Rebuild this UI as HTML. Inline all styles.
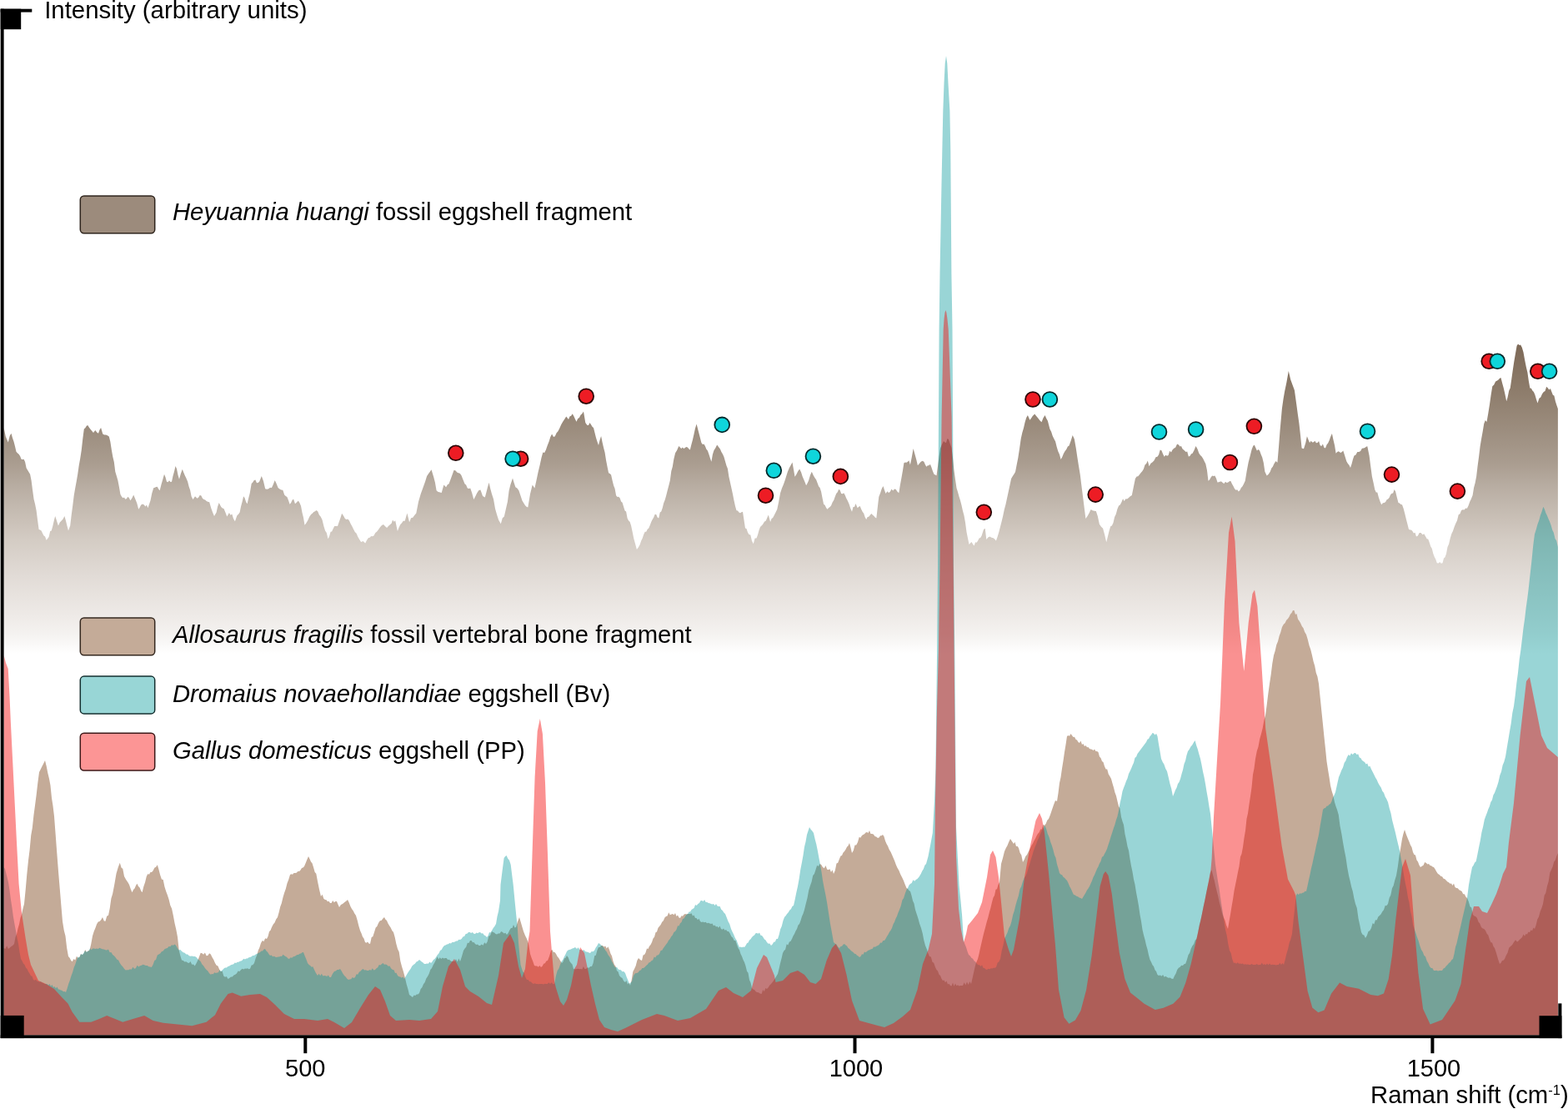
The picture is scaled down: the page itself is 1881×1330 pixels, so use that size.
<!DOCTYPE html>
<html><head><meta charset="utf-8"><title>Raman spectra</title>
<style>html,body{margin:0;padding:0;background:#fff;width:1881px;height:1330px;overflow:hidden}svg{display:block}</style>
</head><body>
<svg width="1881" height="1330" viewBox="0 0 1881 1330">
<defs>
<linearGradient id="hg" gradientUnits="userSpaceOnUse" x1="0" y1="414" x2="0" y2="784">
<stop offset="0.000" stop-color="rgb(125,105,87)"/>
<stop offset="0.151" stop-color="rgb(142,125,108)"/>
<stop offset="0.265" stop-color="rgb(155,140,125)"/>
<stop offset="0.384" stop-color="rgb(170,157,144)"/>
<stop offset="0.462" stop-color="rgb(185,174,163)"/>
<stop offset="0.632" stop-color="rgb(212,204,196)"/>
<stop offset="0.746" stop-color="rgb(225,219,214)"/>
<stop offset="0.876" stop-color="rgb(238,234,231)"/>
<stop offset="0.941" stop-color="rgb(245,243,241)"/>
<stop offset="1.000" stop-color="rgb(255,255,255)"/>
</linearGradient>
</defs>
<rect width="1881" height="1330" fill="#fff"/>
<path d="M4.6 784.0L4.6 513.1L6.8 523.6L8.3 527.1L9.8 530.4L11.7 522.7L13.5 519.8L15.0 525.2L16.5 529.6L18.0 535.3L19.5 541.7L21.1 543.5L22.6 544.7L24.1 546.9L25.6 550.7L27.1 551.1L28.6 550.7L30.1 553.9L31.6 561.2L33.1 563.8L34.6 566.2L36.1 568.7L37.6 576.2L39.1 588.0L40.6 598.8L42.1 604.8L43.6 612.3L45.1 624.1L46.6 634.9L48.1 635.6L49.6 636.4L51.1 639.7L52.6 642.4L54.1 643.4L55.6 647.7L57.1 645.9L58.6 643.9L60.2 636.9L61.7 636.4L63.2 631.2L64.7 624.8L66.2 619.1L68.1 624.8L69.9 630.4L71.8 626.4L73.7 624.4L75.6 622.4L77.4 619.1L78.9 624.2L80.5 630.8L82.0 636.4L84.2 630.4L85.7 617.7L87.2 606.4L88.7 594.3L90.2 585.4L91.7 577.5L93.2 568.7L94.7 558.3L96.2 549.9L97.7 540.2L99.2 527.1L100.8 514.6L102.3 513.2L103.8 510.8L105.3 510.1L106.8 512.5L108.3 514.6L110.2 516.8L112.0 519.1L114.3 516.1L116.2 518.5L118.0 519.8L119.5 515.4L121.1 513.1L123.3 520.6L125.2 521.4L127.1 521.4L128.9 522.2L130.8 523.6L132.3 529.6L133.8 539.3L135.3 547.7L136.8 554.1L138.3 565.7L139.9 571.0L141.4 576.2L142.9 584.0L144.4 592.8L145.9 595.5L147.4 597.3L148.9 596.4L150.4 598.8L151.9 597.9L153.4 595.8L154.9 597.3L156.4 600.3L158.3 597.4L160.2 593.5L162.4 598.8L164.3 603.4L166.2 610.8L167.7 608.4L169.2 605.6L171.1 604.4L172.9 605.6L174.4 607.4L175.9 605.6L177.4 609.3L178.9 605.1L180.5 600.3L182.3 591.6L184.2 585.3L185.7 584.8L187.2 583.9L188.7 583.8L190.2 586.6L191.7 588.3L193.5 581.1L195.2 575.3L197.0 568.7L198.5 572.2L200.0 577.7L201.5 578.2L203.0 576.2L204.5 577.9L206.0 577.7L207.5 570.7L209.0 565.5L210.5 558.9L212.0 562.2L213.5 569.8L215.0 574.7L216.9 568.1L218.8 562.7L220.0 565.9L221.7 570.1L223.4 573.5L225.1 577.4L226.6 583.4L228.1 587.8L229.6 595.3L231.5 599.1L234.0 595.3L236.6 597.8L238.2 596.4L239.8 593.7L241.4 594.6L243.0 597.8L244.6 599.0L246.2 599.5L247.7 601.1L249.3 601.7L251.2 602.2L253.2 609.3L255.1 614.6L257.0 618.9L259.6 614.4L261.1 607.6L262.7 602.9L265.3 608.0L266.9 609.6L268.5 610.0L270.4 614.4L272.3 619.5L274.9 615.1L276.6 617.8L278.3 616.5L280.0 622.1L281.9 625.3L284.4 618.2L286.0 616.7L287.6 614.4L289.1 607.2L290.6 601.8L292.1 595.3L293.6 597.2L295.1 601.9L296.6 604.2L298.1 597.8L299.7 591.5L301.7 580.0L303.2 578.6L304.8 576.1L306.4 575.5L308.0 579.3L309.6 578.9L311.2 577.4L313.8 571.0L316.0 576.9L318.2 586.3L320.1 586.8L322.1 586.3L324.0 584.7L325.9 585.1L327.8 581.0L329.7 576.1L331.6 579.9L333.6 585.1L335.5 586.4L337.4 587.6L339.3 587.8L341.2 593.4L342.8 595.0L344.4 595.9L346.0 600.1L347.6 604.8L349.1 603.0L350.6 599.7L352.1 598.5L354.0 604.2L355.9 602.5L357.8 600.4L359.4 603.0L361.0 606.8L362.5 614.8L364.0 620.8L365.5 629.7L367.4 627.2L369.3 624.0L371.2 619.7L373.1 617.0L374.7 615.7L376.3 614.1L377.9 613.3L379.5 611.9L381.2 613.3L382.9 617.5L384.6 619.5L386.5 623.2L388.4 631.0L390.1 636.6L391.8 639.0L393.5 646.3L395.0 643.4L396.6 637.8L398.1 637.6L399.7 633.9L401.2 631.0L403.1 631.0L405.0 631.0L406.7 625.9L408.4 621.3L410.1 615.7L412.0 618.5L413.9 622.1L415.6 623.0L417.3 622.5L419.0 624.6L420.7 628.2L422.4 631.3L424.1 634.8L425.8 637.9L427.6 639.8L429.3 643.8L431.2 647.1L433.1 650.1L435.6 648.9L438.2 651.4L440.1 647.8L442.0 645.0L443.6 644.8L445.2 643.0L446.8 643.3L448.4 642.5L450.3 639.1L452.2 637.4L454.1 634.9L456.0 632.3L458.0 630.0L460.0 628.9L462.1 631.2L464.1 633.0L466.1 630.7L468.1 628.9L469.6 627.8L471.1 623.6L472.7 625.7L474.2 624.2L476.9 637.0L478.6 632.6L480.3 628.9L482.0 627.2L483.7 624.8L485.7 624.8L488.4 615.4L491.1 626.2L493.1 621.3L495.2 620.8L497.2 618.1L499.3 615.4L502.0 601.8L504.7 592.4L506.5 587.4L508.3 582.6L510.1 577.5L512.1 571.1L514.1 568.0L515.8 565.7L517.5 563.2L520.2 572.0L521.9 578.6L523.6 588.3L525.3 589.7L527.0 590.3L529.7 591.0L532.4 581.5L535.1 584.2L536.8 581.2L538.5 580.2L540.5 574.9L542.6 569.3L544.6 563.7L546.6 564.6L548.3 566.5L550.0 567.3L551.7 567.7L553.4 570.0L555.5 575.2L557.5 580.2L559.1 581.5L560.8 585.6L562.5 585.9L564.2 585.6L566.2 591.2L568.3 599.1L570.3 595.3L572.4 591.0L574.4 588.0L576.4 587.6L579.1 595.1L581.8 596.4L583.4 590.6L585.0 584.2L586.6 578.8L588.3 586.2L590.0 592.4L592.0 598.5L594.0 610.0L596.0 616.9L598.1 623.5L600.8 628.2L602.8 621.3L604.8 619.4L606.8 610.8L608.9 601.8L610.6 588.4L612.3 581.5L615.0 573.4L616.7 579.3L618.4 584.2L620.4 585.6L622.4 588.3L624.5 594.6L626.5 600.5L628.2 603.2L629.9 605.9L631.6 607.8L633.3 608.6L636.0 592.4L638.7 581.5L641.4 585.6L643.5 576.0L645.5 566.6L647.5 558.3L649.5 549.0L651.3 542.6L653.1 543.1L654.9 539.6L656.7 534.2L658.5 529.8L660.3 524.0L662.1 520.5L664.0 524.0L665.8 523.3L667.6 519.2L669.4 517.2L671.2 513.8L673.2 509.2L675.2 505.7L677.2 502.8L679.3 499.6L682.0 503.0L683.6 499.3L685.1 498.7L686.7 496.2L688.3 499.1L689.9 502.6L691.5 505.7L693.2 501.9L694.9 501.1L696.5 497.7L698.2 496.2L700.0 493.5L702.3 507.1L704.5 510.1L706.0 510.0L707.5 506.9L709.0 509.3L710.5 511.8L712.0 513.1L713.5 519.1L715.0 525.1L716.5 529.7L718.0 534.1L719.5 528.0L721.1 522.9L722.6 530.6L724.1 537.1L725.6 542.7L727.1 552.2L728.6 559.9L730.1 567.2L731.6 568.0L733.1 569.5L734.6 576.3L736.1 582.3L737.6 585.9L739.1 594.3L740.6 595.9L742.1 595.8L743.6 597.3L745.1 601.4L746.6 602.8L748.1 607.8L749.6 612.6L751.1 613.6L752.6 621.4L754.1 624.6L755.6 625.7L757.1 630.4L758.7 638.0L760.2 645.4L762.0 651.9L763.9 658.9L765.8 656.5L767.7 652.9L769.2 648.6L770.7 645.4L772.2 640.9L773.7 637.8L775.2 637.7L776.7 634.7L778.2 633.4L779.7 630.1L781.2 626.0L782.7 622.9L784.2 620.4L785.7 616.8L787.2 617.1L788.7 620.5L790.2 621.4L791.7 614.5L793.2 613.4L794.7 609.3L796.2 603.3L797.7 599.4L799.2 594.3L800.7 588.2L802.3 582.3L803.8 576.2L805.3 565.1L806.8 559.7L808.3 550.7L810.1 543.2L812.0 540.2L814.3 534.9L815.8 536.6L817.3 537.9L818.8 536.4L820.3 537.9L821.8 537.1L823.3 536.1L824.8 536.4L826.3 538.3L827.8 539.4L829.3 533.4L830.8 528.1L832.3 521.4L833.8 514.6L835.6 508.6L838.3 519.1L839.8 524.7L841.4 531.1L842.9 532.9L844.4 532.6L845.9 534.9L847.4 538.8L848.9 540.6L850.4 544.7L851.9 549.4L853.4 553.7L854.9 544.9L856.4 540.2L858.3 537.3L860.2 533.4L862.0 536.0L863.9 538.6L865.4 542.1L866.9 544.5L868.4 547.7L869.9 553.0L871.4 558.2L872.9 562.1L874.4 571.7L875.9 578.5L877.4 585.3L879.0 592.4L880.5 600.3L882.0 606.9L883.5 612.3L885.0 612.6L886.5 614.4L888.0 615.3L889.5 614.3L891.0 613.8L892.5 623.8L894.0 633.4L895.5 634.1L897.0 638.5L898.5 640.9L900.3 641.5L902.0 648.7L903.8 652.2L905.6 645.5L907.5 645.4L909.0 641.5L910.5 635.9L912.0 631.9L913.5 630.6L915.0 628.9L916.9 625.8L918.8 624.4L920.3 621.1L921.8 617.6L924.1 625.9L925.6 622.0L927.1 620.9L928.6 618.3L930.5 614.5L932.3 610.8L934.2 601.7L936.1 591.3L938.0 585.6L940.0 580.8L941.5 576.6L943.0 571.7L944.9 565.7L946.8 561.2L948.6 558.0L950.5 554.4L952.0 563.0L953.5 571.7L955.4 568.9L957.3 565.0L959.2 562.5L961.1 566.5L962.6 571.2L964.1 574.7L965.6 578.3L967.1 582.3L968.6 579.4L970.1 576.2L972.0 569.7L973.8 565.7L975.7 570.1L977.6 573.2L979.1 575.2L980.6 579.2L982.1 583.2L983.6 584.9L985.1 589.8L986.6 597.5L988.1 604.8L989.6 605.8L991.1 609.0L992.6 610.8L994.1 608.9L995.6 607.9L997.1 606.3L998.6 602.4L1000.2 599.9L1001.7 595.8L1003.2 592.0L1004.7 590.2L1006.2 586.8L1007.7 588.1L1009.2 592.0L1010.7 592.3L1012.2 591.3L1013.7 593.7L1015.2 597.5L1016.7 600.3L1018.5 604.3L1020.2 609.5L1022.0 613.8L1023.5 608.1L1025.0 607.9L1026.5 604.1L1028.7 609.3L1030.2 607.7L1031.7 607.1L1033.2 610.7L1034.7 613.8L1036.2 615.8L1037.7 620.2L1039.2 622.9L1040.7 620.0L1042.2 619.7L1043.8 617.8L1045.3 616.1L1046.8 617.6L1048.3 618.7L1049.8 620.4L1051.3 621.4L1052.8 608.5L1054.3 595.8L1056.0 591.6L1057.8 586.0L1059.5 583.0L1061.0 587.7L1062.6 592.0L1064.3 589.2L1066.1 590.9L1067.8 589.8L1069.5 586.5L1071.2 588.4L1072.9 586.6L1074.6 586.8L1076.4 589.6L1078.3 591.3L1079.8 582.1L1081.4 573.2L1082.9 564.8L1084.4 555.2L1085.9 554.5L1087.4 554.7L1088.9 553.7L1090.4 552.3L1091.9 557.4L1093.8 548.2L1095.6 537.9L1097.9 546.2L1099.4 551.7L1100.9 558.2L1102.8 556.0L1104.7 553.7L1106.6 552.8L1108.4 553.7L1109.9 557.3L1111.4 559.7L1112.9 558.2L1114.4 558.3L1115.9 556.7L1117.4 560.5L1119.0 565.3L1120.5 568.7L1122.0 569.4L1123.5 570.2L1125.0 559.2L1126.5 547.7L1128.0 537.8L1129.5 534.0L1132.0 529.0L1133.5 530.5L1135.0 531.0L1136.5 525.9L1138.0 527.0L1139.8 532.6L1141.5 537.1L1143.0 548.9L1144.5 564.2L1146.0 575.2L1147.5 585.3L1149.0 590.0L1150.5 595.6L1152.0 600.3L1153.5 606.1L1155.0 612.8L1156.5 618.3L1158.0 626.7L1159.5 637.9L1161.0 645.6L1162.6 652.9L1164.1 651.3L1165.6 649.9L1167.1 652.8L1168.6 654.4L1170.1 650.3L1171.6 650.8L1173.1 648.4L1174.6 645.4L1176.1 645.0L1177.6 642.4L1180.0 634.9L1181.7 633.7L1183.3 646.9L1185.3 644.5L1187.4 643.6L1189.5 644.7L1191.6 645.2L1193.2 646.4L1194.9 648.6L1196.6 643.8L1198.2 638.6L1199.9 632.0L1201.5 625.8L1203.2 618.8L1204.8 610.9L1206.5 604.8L1208.1 597.3L1209.8 589.5L1211.4 582.1L1213.1 574.1L1214.7 571.2L1216.4 568.7L1218.0 565.9L1219.7 557.2L1221.3 549.3L1223.0 538.3L1224.7 526.2L1226.3 518.9L1228.0 513.2L1229.6 506.3L1231.2 500.9L1232.9 498.0L1235.4 503.8L1237.1 501.5L1238.7 498.9L1241.2 496.4L1243.2 498.9L1245.3 501.4L1247.4 504.2L1249.5 506.3L1251.5 501.2L1253.6 498.0L1255.2 501.8L1256.9 504.7L1259.4 514.6L1261.1 517.7L1262.7 522.8L1264.4 526.2L1266.1 529.4L1267.7 536.1L1269.3 541.2L1271.0 545.1L1272.6 551.0L1274.3 548.0L1275.9 544.0L1277.6 541.0L1279.2 539.1L1280.9 535.5L1282.5 534.4L1284.6 528.8L1286.7 522.0L1288.8 526.6L1290.8 537.7L1292.4 548.6L1294.1 559.2L1295.8 569.4L1297.4 582.4L1299.1 595.7L1300.7 608.8L1302.4 622.1L1304.5 619.1L1306.5 615.5L1308.6 611.1L1310.7 612.2L1312.8 612.7L1314.8 613.0L1316.8 619.0L1318.9 628.7L1321.0 631.8L1323.1 633.7L1325.2 641.5L1327.2 650.2L1328.8 644.1L1330.5 637.0L1332.2 631.2L1333.8 630.6L1335.5 627.0L1337.1 619.9L1338.8 616.5L1340.4 610.5L1342.1 606.6L1343.7 605.5L1345.4 602.2L1347.1 598.3L1348.7 600.9L1350.4 598.2L1352.0 598.4L1353.7 597.3L1355.8 595.3L1357.8 594.0L1359.8 584.2L1361.9 574.1L1363.6 571.4L1365.2 571.3L1366.9 569.2L1368.6 566.9L1370.2 565.2L1371.9 562.5L1373.5 557.6L1375.2 556.1L1376.8 552.6L1378.5 559.2L1380.5 555.8L1382.6 554.3L1384.5 552.2L1386.5 548.2L1388.4 547.7L1390.1 545.2L1391.7 539.5L1393.4 540.2L1395.1 544.5L1396.7 547.7L1398.3 545.8L1400.0 546.7L1401.6 546.0L1403.2 540.8L1404.9 542.5L1406.5 539.6L1408.2 537.7L1410.1 536.8L1412.1 532.6L1414.0 533.6L1415.5 535.5L1417.0 534.9L1418.5 538.2L1420.0 539.4L1422.6 542.1L1424.2 541.6L1425.8 547.6L1427.4 546.9L1428.9 544.4L1430.5 543.7L1432.5 539.9L1434.5 535.0L1436.5 538.6L1438.4 543.7L1440.0 545.9L1441.6 547.4L1443.2 550.0L1444.8 553.2L1446.3 556.3L1447.9 563.4L1449.5 576.8L1451.1 575.3L1452.6 572.4L1454.2 570.5L1455.8 570.9L1457.4 570.5L1459.0 573.8L1460.5 578.4L1462.1 578.2L1463.7 577.4L1465.3 577.6L1466.8 579.0L1468.4 580.0L1470.0 577.7L1471.6 578.9L1473.2 578.4L1474.8 577.3L1476.3 576.8L1477.9 580.3L1479.5 583.1L1481.1 586.3L1482.7 587.8L1484.2 587.2L1485.8 589.5L1487.4 587.9L1488.9 585.0L1490.5 583.2L1492.1 580.2L1493.7 576.8L1495.7 564.7L1497.6 554.7L1499.6 547.0L1501.6 539.0L1503.2 535.1L1504.7 533.4L1506.3 537.1L1507.9 540.5L1509.5 539.0L1511.1 540.5L1512.7 545.0L1514.2 548.4L1515.8 555.0L1517.4 565.8L1519.7 570.5L1521.7 568.8L1523.7 565.8L1525.3 561.6L1526.8 559.8L1528.4 556.3L1530.4 553.0L1532.4 554.7L1534.0 536.2L1535.5 516.8L1537.9 490.0L1539.5 478.7L1541.1 469.5L1543.4 458.4L1545.8 445.0L1548.2 455.3L1550.5 461.6L1552.9 467.9L1555.3 485.3L1556.8 496.6L1558.4 507.4L1560.0 522.0L1561.6 537.4L1564.0 538.2L1566.3 531.1L1567.9 523.2L1569.5 527.2L1571.1 531.1L1572.7 528.7L1574.2 530.6L1575.8 530.3L1577.4 528.8L1578.9 531.2L1580.5 531.1L1582.1 529.1L1583.7 534.2L1585.3 535.0L1586.9 532.5L1588.4 536.7L1590.0 537.4L1591.6 533.3L1593.1 531.4L1594.7 527.9L1596.3 523.5L1597.9 520.0L1599.5 527.4L1601.1 534.2L1602.6 543.7L1604.2 541.9L1605.8 541.3L1608.2 542.9L1609.8 542.0L1611.3 540.5L1613.3 546.8L1615.3 553.2L1616.9 556.1L1618.4 557.7L1620.0 561.1L1621.5 556.5L1623.0 550.8L1624.5 546.6L1626.4 545.6L1628.3 542.1L1630.2 542.1L1632.1 540.9L1633.9 537.7L1635.8 537.6L1637.3 537.1L1638.8 535.8L1640.3 535.3L1642.6 546.6L1644.2 559.0L1645.9 571.4L1647.6 578.9L1649.3 587.2L1650.8 590.6L1652.3 590.5L1653.8 596.3L1655.5 601.3L1657.2 605.3L1658.9 603.2L1660.6 603.0L1662.1 602.1L1663.6 599.2L1665.1 598.5L1666.6 596.8L1668.1 593.3L1669.6 591.7L1671.1 591.5L1672.6 587.0L1674.1 589.5L1675.8 596.4L1677.5 603.0L1679.0 603.5L1680.5 604.9L1682.0 605.3L1683.7 610.0L1685.4 616.6L1686.9 622.8L1688.4 628.6L1689.9 634.6L1691.4 635.6L1692.9 635.4L1694.4 636.9L1695.9 639.4L1697.5 638.8L1699.0 643.6L1700.9 642.5L1702.7 638.9L1704.6 639.1L1706.5 641.2L1708.3 640.3L1710.2 643.6L1711.7 646.2L1713.2 646.4L1714.7 650.4L1716.2 655.3L1717.8 658.0L1719.3 663.9L1720.8 668.1L1722.3 670.8L1723.8 675.2L1725.5 675.6L1727.2 673.9L1728.8 675.8L1730.5 675.2L1732.0 669.5L1733.5 668.2L1735.0 663.9L1736.5 656.0L1738.1 652.4L1739.6 645.9L1741.3 640.2L1742.9 637.1L1744.6 631.9L1746.3 627.8L1748.0 624.3L1749.7 617.2L1751.4 616.3L1753.1 612.0L1754.8 611.2L1756.5 611.4L1758.2 609.5L1759.9 609.8L1761.6 606.2L1763.2 601.8L1764.9 598.3L1766.6 594.0L1768.1 584.7L1769.6 579.2L1771.1 571.4L1772.6 558.8L1774.1 547.8L1775.6 535.3L1777.1 526.3L1778.7 517.6L1780.2 508.3L1781.8 503.9L1783.5 506.0L1785.2 496.3L1786.9 485.7L1788.6 473.8L1790.3 463.2L1792.2 461.4L1794.1 457.5L1796.0 456.4L1797.5 455.4L1799.0 453.8L1800.5 453.0L1802.2 459.8L1803.8 465.4L1805.5 472.9L1807.2 481.2L1808.7 476.0L1810.2 468.4L1811.7 465.4L1813.2 455.2L1814.8 443.7L1816.3 433.8L1817.9 424.6L1819.6 414.7L1821.1 412.6L1822.6 414.0L1824.1 413.5L1825.8 416.7L1827.5 422.6L1829.2 432.1L1830.9 440.6L1832.4 446.7L1833.9 457.3L1835.4 465.4L1836.9 465.7L1838.4 468.6L1839.9 469.9L1841.4 473.4L1843.0 479.1L1844.5 483.5L1846.4 477.7L1848.2 476.5L1850.1 472.2L1851.8 470.0L1853.5 468.9L1855.2 463.8L1856.9 465.4L1858.4 467.4L1859.9 466.0L1861.4 469.9L1862.9 473.7L1864.4 474.4L1865.9 481.2L1867.4 486.1L1868.9 490.2L1868.9 784.0Z" fill="url(#hg)"/>
<path d="M4.6 1241.6L4.6 1137.0L6.4 1138.0L8.2 1134.2L10.0 1138.0L11.8 1136.5L13.5 1134.9L15.2 1134.1L17.0 1132.0L18.5 1124.1L20.0 1120.5L21.5 1113.5L23.0 1108.4L24.5 1100.7L26.0 1096.4L27.5 1089.8L29.0 1084.0L30.7 1067.0L32.3 1048.6L34.0 1032.0L35.6 1019.3L37.2 1002.1L38.8 993.1L40.4 978.1L42.0 966.0L43.7 953.0L45.3 938.9L47.0 926.0L48.8 922.5L50.5 919.0L52.2 915.8L54.0 912.0L55.7 918.8L57.3 926.9L59.0 934.0L60.5 942.1L62.0 956.9L63.5 966.6L65.0 979.0L66.7 1001.2L68.3 1023.0L70.0 1045.0L71.7 1065.2L73.3 1084.8L75.0 1105.0L76.8 1115.9L78.5 1122.5L80.2 1137.0L82.0 1147.0L83.6 1148.8L85.1 1151.8L86.7 1153.2L88.4 1149.9L90.2 1151.6L91.9 1146.7L93.6 1148.9L95.3 1148.1L97.0 1144.1L98.8 1145.2L100.5 1143.7L102.2 1139.1L104.0 1142.2L105.8 1140.2L107.5 1139.4L109.2 1132.4L111.0 1122.6L112.7 1116.9L114.4 1112.9L116.1 1108.2L117.8 1105.4L119.6 1105.1L121.3 1103.0L123.0 1100.1L124.8 1104.6L126.5 1104.8L128.2 1098.8L130.0 1097.8L131.7 1089.4L133.4 1077.5L135.1 1071.9L137.3 1060.4L139.5 1047.7L141.7 1040.3L143.8 1034.7L145.5 1040.6L147.3 1042.1L149.0 1051.1L151.2 1055.1L153.3 1058.0L155.0 1061.1L156.8 1066.3L158.5 1070.2L160.0 1067.1L161.5 1065.5L163.0 1062.1L164.5 1059.8L166.0 1063.0L167.6 1064.6L169.1 1068.2L170.6 1070.2L172.3 1063.3L174.1 1058.1L175.8 1051.1L177.4 1048.0L178.9 1048.7L180.5 1045.9L182.0 1046.0L183.6 1044.2L185.3 1040.7L187.1 1039.8L188.8 1037.3L190.5 1043.0L192.2 1049.4L193.9 1054.4L195.7 1055.1L197.4 1063.2L199.1 1068.8L200.9 1073.5L202.6 1078.8L204.3 1085.7L206.1 1089.7L207.8 1097.8L209.5 1107.1L211.3 1114.8L213.0 1123.8L214.7 1139.4L216.3 1146.0L218.0 1151.5L219.8 1152.1L221.5 1153.4L223.3 1153.2L225.0 1154.5L226.8 1155.0L228.5 1152.9L230.2 1156.8L232.0 1156.5L233.7 1158.4L235.8 1154.8L238.0 1150.0L240.7 1142.8L242.4 1143.3L244.1 1144.7L245.9 1142.4L247.6 1146.3L249.3 1146.0L251.1 1143.3L252.8 1144.5L254.5 1148.0L256.3 1150.9L258.0 1155.0L259.7 1157.7L261.4 1158.6L263.2 1162.8L264.9 1165.3L266.6 1164.4L268.3 1170.5L270.0 1171.7L271.8 1171.0L273.5 1174.0L275.2 1173.0L277.0 1171.5L278.7 1171.4L280.5 1169.6L282.2 1168.8L283.9 1167.5L285.6 1164.4L287.4 1164.9L289.1 1163.1L290.8 1161.8L292.3 1162.5L293.9 1161.6L295.4 1161.8L296.9 1161.2L298.5 1162.2L300.0 1161.8L301.7 1157.6L303.3 1157.3L305.0 1155.0L306.6 1149.6L308.2 1145.4L309.8 1139.8L311.4 1136.3L313.0 1131.0L314.8 1127.9L316.5 1129.1L318.2 1125.3L320.0 1126.0L321.5 1123.1L323.0 1117.3L324.5 1115.8L326.0 1112.0L327.8 1108.6L329.5 1106.5L331.2 1102.5L333.0 1100.0L334.6 1094.3L336.2 1087.6L337.8 1083.2L339.4 1076.6L341.0 1071.0L342.8 1065.9L344.5 1059.3L346.2 1054.9L348.0 1049.0L349.5 1048.3L351.0 1048.7L352.5 1047.1L354.0 1047.0L355.7 1046.8L357.3 1044.9L359.0 1045.0L360.5 1043.5L362.0 1040.9L363.5 1040.6L365.0 1039.0L366.7 1034.9L368.3 1031.0L370.0 1027.0L371.5 1030.0L373.0 1033.6L374.5 1035.3L376.0 1040.0L377.7 1046.0L379.3 1047.8L381.0 1057.0L383.0 1066.7L385.0 1075.0L386.7 1072.8L388.3 1077.8L390.0 1079.0L391.5 1079.2L393.0 1081.2L394.5 1080.7L396.0 1083.0L397.6 1083.0L399.2 1079.9L400.8 1082.3L402.4 1081.0L404.0 1081.0L405.5 1084.8L407.0 1088.0L409.0 1085.0L411.0 1084.0L412.5 1082.8L414.0 1081.4L415.5 1080.5L417.0 1079.0L418.7 1082.5L420.3 1086.8L422.0 1090.0L423.7 1092.3L425.3 1095.4L427.0 1098.0L428.7 1103.7L430.3 1110.2L432.0 1116.0L433.5 1119.2L435.0 1123.4L436.5 1125.6L438.0 1130.0L439.5 1130.7L441.0 1129.6L442.5 1131.6L444.0 1132.0L445.7 1124.0L447.3 1123.3L449.0 1118.0L450.7 1112.5L452.3 1111.0L454.0 1107.0L455.8 1104.2L457.5 1103.9L459.2 1101.7L461.0 1100.0L462.5 1102.8L464.0 1104.0L465.5 1107.6L467.0 1110.0L468.7 1112.5L470.3 1115.9L472.0 1118.0L473.7 1124.0L475.3 1131.7L477.0 1138.0L478.7 1141.5L480.3 1152.4L482.0 1159.0L484.0 1165.5L486.0 1173.0L487.7 1180.4L489.3 1185.7L491.0 1193.0L493.0 1194.5L495.0 1196.0L496.6 1193.4L498.2 1194.1L499.8 1192.5L501.4 1192.6L503.0 1191.0L504.7 1186.1L506.3 1184.3L508.0 1180.2L509.7 1178.0L511.3 1173.4L513.0 1171.0L514.7 1167.8L516.3 1163.1L518.0 1161.1L519.7 1157.2L521.3 1154.6L523.0 1151.0L524.6 1147.2L526.1 1150.5L527.7 1148.2L529.3 1150.0L530.9 1148.4L532.4 1149.6L534.0 1149.0L535.6 1148.9L537.2 1151.1L538.8 1150.7L540.4 1152.3L542.0 1153.0L543.7 1152.8L545.3 1153.1L547.0 1150.3L548.7 1153.4L550.3 1149.5L552.0 1153.0L554.0 1147.0L556.0 1140.0L557.6 1137.6L559.2 1135.7L560.8 1130.7L562.4 1130.9L564.0 1128.0L565.5 1128.0L567.0 1130.3L568.5 1130.1L570.0 1132.0L571.5 1133.1L573.0 1132.6L574.5 1133.9L576.0 1134.0L577.8 1132.6L579.5 1133.7L581.2 1130.2L583.0 1132.0L584.7 1129.3L586.3 1122.8L588.0 1122.0L590.0 1117.0L591.5 1118.1L593.0 1118.4L594.5 1120.0L596.0 1120.5L597.8 1119.5L599.5 1119.5L601.2 1117.0L603.0 1118.0L604.7 1119.6L606.3 1118.8L608.0 1121.0L609.7 1118.9L611.3 1115.5L613.0 1113.0L614.5 1113.0L616.0 1109.0L617.5 1112.4L619.0 1112.0L621.0 1105.2L623.0 1100.0L624.7 1105.7L626.3 1111.2L628.0 1117.0L630.0 1122.1L632.0 1126.0L634.0 1131.5L636.0 1144.0L637.7 1149.1L639.3 1153.1L641.0 1158.0L642.6 1158.6L644.2 1158.4L645.8 1159.7L647.4 1158.0L649.0 1160.0L650.6 1158.7L652.2 1155.8L653.8 1155.3L655.4 1152.5L657.0 1152.0L659.0 1146.7L661.0 1140.0L662.5 1139.0L664.0 1142.1L665.5 1142.0L667.0 1144.0L668.7 1147.2L670.3 1148.9L672.0 1152.0L674.0 1155.0L675.5 1153.4L677.0 1149.6L678.5 1148.7L680.0 1146.0L681.7 1148.3L683.3 1152.7L685.0 1155.0L686.5 1156.4L688.0 1162.0L690.0 1162.4L692.0 1162.0L693.6 1161.8L695.1 1162.3L696.7 1162.0L698.3 1162.4L699.9 1159.0L701.4 1162.1L703.0 1162.0L704.8 1160.3L706.5 1160.8L708.2 1159.0L710.0 1159.0L711.6 1154.9L713.2 1146.3L714.8 1145.7L716.4 1139.7L718.0 1136.0L719.7 1136.0L721.3 1134.1L723.0 1134.0L724.6 1135.5L726.2 1134.5L727.8 1137.5L729.4 1135.3L731.0 1139.0L732.5 1143.7L734.0 1146.6L735.5 1152.8L737.0 1157.0L738.5 1158.7L740.0 1164.2L741.5 1165.3L743.0 1170.0L744.8 1172.0L746.5 1173.1L748.2 1176.5L750.0 1178.0L751.5 1176.0L753.0 1180.5L754.5 1178.6L756.0 1182.0L757.7 1175.3L759.3 1165.2L761.0 1162.0L762.7 1158.2L764.3 1152.0L766.0 1149.0L768.0 1151.1L770.0 1152.0L771.5 1145.5L773.0 1145.0L774.5 1142.6L776.0 1137.6L777.5 1138.0L779.0 1134.7L780.5 1133.0L782.0 1130.0L783.5 1125.6L785.0 1123.8L786.5 1118.2L788.0 1117.4L789.5 1112.8L791.0 1111.0L792.6 1108.9L794.2 1105.8L795.8 1104.2L797.4 1100.5L799.0 1099.0L800.6 1098.5L802.2 1094.3L803.8 1097.3L805.4 1096.6L807.0 1096.0L808.5 1097.2L810.0 1095.1L811.5 1099.0L813.0 1097.4L814.5 1100.5L816.0 1101.0L817.5 1098.2L819.0 1098.7L820.5 1096.8L822.0 1096.0L823.5 1096.4L825.0 1096.0L826.5 1096.1L828.0 1096.0L829.5 1095.2L831.0 1098.4L832.5 1097.4L834.0 1101.0L835.5 1100.9L837.0 1103.2L838.5 1101.7L840.0 1105.0L841.6 1106.0L843.2 1105.5L844.9 1106.2L846.5 1105.8L848.1 1107.2L849.8 1106.8L851.4 1107.6L853.0 1108.0L854.5 1107.6L856.0 1110.2L857.5 1109.6L859.0 1111.4L860.5 1111.1L862.0 1112.8L863.5 1110.4L865.0 1114.0L866.5 1114.7L868.0 1113.5L869.5 1115.8L871.0 1114.9L872.5 1117.1L874.0 1117.0L875.7 1119.6L877.3 1122.9L879.0 1124.5L880.7 1128.1L882.3 1128.1L884.0 1133.0L885.5 1137.0L887.0 1139.3L888.5 1144.1L890.0 1146.9L891.5 1150.9L893.0 1154.0L894.5 1158.5L896.0 1164.7L897.5 1166.8L899.0 1175.2L900.5 1178.4L902.0 1185.0L903.5 1186.5L905.0 1187.1L906.5 1189.1L908.0 1190.0L909.9 1190.3L911.7 1191.5L913.6 1192.0L915.2 1187.0L916.8 1189.1L918.4 1185.1L920.0 1186.0L921.7 1184.3L923.3 1181.4L925.0 1180.0L927.2 1177.2L929.4 1174.0L931.2 1170.9L933.0 1168.0L934.5 1162.1L936.0 1155.2L937.5 1149.6L939.0 1143.0L940.6 1140.1L942.1 1138.8L943.7 1132.2L945.3 1133.6L946.9 1129.4L948.4 1129.1L950.0 1126.0L951.5 1122.4L953.0 1120.1L954.5 1116.6L956.0 1114.1L957.5 1109.4L959.0 1108.0L960.5 1104.0L962.0 1098.9L963.5 1095.8L965.0 1091.0L966.8 1083.4L968.5 1077.1L970.2 1067.8L972.0 1062.0L973.6 1057.5L975.2 1050.1L976.9 1048.0L978.5 1043.0L980.2 1037.7L981.8 1039.0L983.5 1036.0L985.2 1037.0L987.0 1040.0L988.8 1041.2L990.5 1038.0L992.2 1042.8L994.0 1043.0L995.5 1042.3L997.0 1046.1L998.5 1043.2L1000.0 1048.0L1001.8 1044.0L1003.5 1035.5L1005.2 1034.7L1007.0 1030.0L1008.5 1026.4L1010.0 1026.0L1011.5 1022.6L1013.0 1021.0L1014.5 1018.8L1016.0 1015.7L1017.5 1014.2L1019.0 1011.0L1020.5 1016.4L1022.0 1023.0L1023.8 1020.1L1025.5 1013.4L1027.2 1013.4L1029.0 1010.0L1030.7 1003.8L1032.3 1004.8L1034.0 1002.0L1035.5 1001.0L1037.0 1000.2L1038.5 998.4L1040.0 998.0L1041.5 999.1L1043.0 996.0L1044.5 1000.0L1046.0 1000.0L1047.8 1000.4L1049.5 1002.9L1051.2 1003.4L1053.0 1005.0L1054.5 1004.6L1056.0 1002.3L1057.5 1002.2L1059.0 1001.0L1060.5 1003.2L1062.0 1008.4L1063.5 1012.0L1065.1 1014.7L1066.8 1019.1L1068.4 1021.6L1070.0 1025.0L1071.7 1029.1L1073.3 1032.7L1074.9 1037.2L1076.6 1041.0L1078.4 1043.9L1080.2 1048.5L1082.0 1052.0L1083.8 1055.7L1085.7 1060.8L1087.5 1065.0L1089.0 1065.9L1090.5 1068.1L1092.0 1069.0L1093.5 1073.9L1095.0 1080.3L1096.5 1083.5L1098.0 1091.0L1099.8 1096.5L1101.5 1101.8L1103.2 1108.1L1105.0 1113.0L1106.7 1119.2L1108.3 1127.5L1110.0 1134.0L1111.7 1138.1L1113.3 1143.0L1115.0 1147.0L1116.8 1147.6L1118.5 1153.7L1120.2 1154.7L1122.0 1160.0L1123.5 1163.1L1125.0 1164.6L1126.5 1168.7L1128.0 1170.0L1129.5 1173.7L1131.0 1176.0L1132.5 1175.6L1134.0 1178.2L1135.5 1176.5L1137.0 1180.4L1138.5 1179.8L1140.0 1182.0L1141.5 1182.4L1143.0 1178.5L1144.5 1182.7L1146.0 1179.4L1147.5 1182.3L1149.0 1181.3L1150.5 1182.4L1152.0 1181.9L1153.5 1182.1L1155.0 1182.0L1156.7 1178.2L1158.3 1181.4L1160.0 1177.5L1161.7 1181.1L1163.3 1176.9L1165.0 1180.0L1166.8 1172.1L1168.7 1163.5L1170.5 1156.0L1173.0 1150.0L1174.5 1144.1L1176.0 1137.0L1177.5 1130.6L1179.0 1124.0L1180.6 1117.4L1182.1 1112.1L1183.7 1105.8L1185.3 1100.5L1186.9 1093.9L1188.4 1088.7L1190.0 1082.0L1191.5 1076.5L1193.0 1074.0L1194.5 1066.8L1196.0 1066.2L1197.5 1061.1L1199.0 1058.0L1201.0 1036.0L1203.0 1028.9L1205.0 1021.0L1206.8 1017.0L1208.5 1013.9L1210.2 1009.7L1212.0 1006.0L1214.0 1009.1L1216.0 1012.0L1217.5 1009.8L1219.0 1015.1L1220.5 1014.7L1222.0 1017.0L1223.7 1023.1L1225.3 1025.4L1227.0 1034.0L1228.7 1031.1L1230.3 1027.1L1232.0 1025.0L1234.0 1021.1L1236.0 1017.0L1237.5 1014.0L1239.0 1011.4L1240.5 1008.2L1242.0 1005.7L1243.5 1002.5L1245.0 1000.0L1246.6 998.3L1248.2 994.6L1249.8 994.6L1251.4 988.7L1253.0 990.0L1254.7 987.8L1256.3 983.7L1258.0 982.0L1260.0 977.1L1262.0 971.0L1264.0 965.3L1266.0 960.0L1268.0 961.0L1269.5 951.3L1271.0 939.1L1272.5 932.2L1274.0 921.7L1275.5 912.5L1277.0 902.0L1278.5 893.1L1280.0 883.0L1281.5 882.0L1283.0 882.8L1284.5 880.0L1286.0 882.0L1287.5 884.1L1289.0 883.8L1290.5 886.8L1292.0 887.5L1293.5 890.0L1295.0 891.0L1296.5 888.4L1298.0 892.9L1299.5 891.9L1301.0 895.0L1302.5 893.9L1304.0 896.3L1305.5 896.0L1307.0 898.0L1308.5 898.6L1310.0 898.7L1311.5 899.9L1313.0 898.5L1314.5 900.9L1316.0 901.0L1317.5 902.1L1319.0 907.5L1320.5 909.1L1322.0 913.0L1323.5 913.9L1325.0 919.0L1326.6 922.6L1328.2 922.5L1329.8 928.4L1331.4 930.9L1333.0 934.0L1334.5 939.5L1336.0 944.6L1337.5 950.6L1339.0 954.5L1340.5 961.0L1342.0 967.1L1343.5 969.5L1345.0 979.7L1346.5 985.0L1348.0 989.3L1349.5 1000.3L1351.0 1007.0L1352.5 1015.1L1354.0 1020.1L1355.5 1030.0L1357.0 1038.5L1358.5 1045.5L1360.0 1054.6L1361.5 1060.8L1363.0 1070.3L1364.5 1078.0L1366.0 1086.5L1367.5 1097.0L1369.0 1104.9L1370.5 1115.0L1372.0 1121.5L1373.5 1126.8L1375.0 1133.5L1376.5 1138.6L1378.0 1145.6L1379.5 1151.0L1381.0 1153.7L1382.5 1157.2L1384.0 1158.9L1385.5 1163.3L1387.0 1165.0L1388.5 1169.0L1390.1 1170.1L1391.8 1169.5L1393.4 1170.8L1395.1 1169.1L1396.7 1171.7L1398.4 1170.7L1400.0 1172.0L1401.8 1172.8L1403.7 1172.4L1405.5 1173.8L1407.3 1173.9L1409.0 1170.2L1410.6 1167.4L1412.2 1163.1L1413.9 1160.7L1415.6 1159.8L1417.2 1157.8L1418.9 1158.1L1420.5 1156.2L1422.2 1155.7L1423.8 1151.3L1425.5 1145.3L1427.2 1142.7L1428.8 1137.5L1430.5 1134.3L1432.1 1132.2L1433.8 1127.4L1435.4 1126.0L1437.0 1119.2L1438.7 1109.5L1440.3 1103.9L1441.9 1096.2L1443.6 1087.6L1445.3 1080.2L1447.0 1070.9L1448.7 1063.1L1450.3 1056.5L1452.0 1047.0L1453.6 1043.2L1455.2 1050.0L1456.8 1056.1L1458.4 1063.5L1460.0 1070.0L1461.5 1075.8L1463.0 1083.0L1464.5 1088.2L1466.0 1095.0L1467.8 1100.1L1469.5 1103.7L1471.2 1109.8L1473.0 1114.0L1474.5 1105.1L1476.0 1096.7L1477.5 1087.3L1479.0 1078.8L1480.5 1068.5L1482.0 1061.0L1483.5 1053.8L1485.0 1045.9L1486.5 1038.9L1488.0 1027.6L1489.5 1024.0L1491.0 1016.0L1492.5 1004.9L1494.0 996.2L1495.5 982.0L1497.0 975.4L1498.5 964.7L1500.0 955.0L1501.5 944.4L1503.0 929.0L1504.5 921.4L1506.0 910.0L1507.8 900.8L1509.5 895.6L1511.2 886.2L1513.0 880.0L1514.7 873.2L1516.3 864.3L1518.0 858.0L1519.7 845.5L1521.3 832.3L1523.0 820.0L1524.7 808.7L1526.3 795.8L1528.0 786.0L1529.7 780.4L1531.3 773.3L1533.0 769.3L1534.7 762.5L1536.3 758.3L1538.0 752.0L1539.8 748.8L1541.5 747.3L1543.2 743.8L1545.0 742.0L1546.5 739.7L1548.0 736.6L1549.5 734.9L1551.0 732.0L1552.5 732.1L1554.0 737.1L1555.5 736.0L1557.0 742.5L1558.5 744.4L1560.0 747.0L1561.8 751.0L1563.5 753.3L1565.2 757.9L1567.0 761.0L1568.8 767.1L1570.5 773.9L1572.2 778.7L1574.0 786.0L1575.6 793.3L1577.2 798.4L1578.8 806.9L1580.4 811.3L1582.0 820.0L1583.7 836.5L1585.3 852.6L1587.0 869.0L1588.5 884.0L1590.0 898.1L1591.5 913.0L1593.0 922.8L1594.5 931.8L1596.0 942.0L1597.7 949.0L1599.3 954.0L1601.0 962.0L1602.5 967.0L1604.0 971.0L1605.8 977.2L1607.5 990.6L1609.2 999.1L1611.0 1010.0L1612.8 1020.1L1614.5 1028.4L1616.2 1040.3L1618.0 1050.0L1619.6 1056.6L1621.2 1063.8L1622.8 1068.9L1624.4 1077.5L1626.0 1084.0L1627.8 1089.0L1629.5 1101.2L1631.2 1108.9L1633.0 1118.0L1634.7 1121.0L1636.3 1121.4L1638.0 1125.0L1639.8 1122.1L1641.5 1116.9L1643.2 1116.3L1645.0 1113.0L1646.7 1107.0L1648.3 1108.4L1650.0 1103.2L1651.7 1103.6L1653.3 1099.5L1655.0 1098.0L1656.7 1096.3L1658.3 1093.3L1660.0 1091.2L1661.7 1086.1L1663.3 1086.3L1665.0 1084.0L1666.7 1076.8L1668.3 1073.4L1670.0 1065.2L1671.7 1061.9L1673.3 1055.6L1675.0 1050.0L1676.8 1039.4L1678.5 1026.7L1680.2 1017.3L1682.0 1006.0L1683.5 999.7L1685.0 995.0L1687.0 1001.1L1689.0 1006.0L1690.5 1009.6L1692.0 1013.6L1693.5 1016.1L1695.0 1021.9L1696.5 1025.0L1698.0 1025.5L1699.5 1031.5L1701.0 1033.5L1702.5 1037.6L1704.0 1040.0L1705.8 1038.7L1707.5 1037.7L1709.2 1034.1L1711.0 1035.0L1712.5 1036.5L1714.0 1035.9L1715.5 1038.1L1717.0 1038.2L1718.5 1039.6L1720.0 1040.0L1721.7 1042.6L1723.3 1045.5L1725.0 1048.0L1726.7 1049.0L1728.3 1050.7L1730.0 1051.3L1731.7 1053.7L1733.3 1054.2L1735.0 1056.0L1736.5 1057.6L1738.0 1058.2L1739.5 1059.8L1741.0 1059.5L1742.5 1062.0L1744.0 1059.4L1745.5 1064.0L1747.1 1065.1L1748.8 1065.2L1750.4 1067.3L1752.0 1068.0L1753.6 1069.1L1755.2 1072.3L1756.8 1072.2L1758.4 1075.6L1760.0 1077.0L1761.8 1081.2L1763.5 1087.3L1765.2 1088.5L1767.0 1097.0L1768.5 1098.6L1770.0 1099.0L1771.8 1100.8L1773.5 1105.6L1775.2 1107.5L1777.0 1112.0L1778.7 1113.4L1780.3 1114.1L1782.0 1116.0L1783.7 1119.7L1785.3 1121.6L1787.0 1127.0L1788.5 1130.2L1790.0 1130.6L1791.5 1134.9L1793.0 1137.0L1795.0 1143.1L1797.0 1150.0L1799.0 1156.0L1800.5 1154.8L1802.0 1152.1L1803.5 1151.8L1805.0 1150.0L1806.8 1145.8L1808.5 1142.7L1810.2 1136.8L1812.0 1135.0L1814.0 1133.2L1816.0 1130.0L1818.0 1127.3L1820.0 1129.5L1821.5 1128.6L1823.0 1126.7L1824.5 1125.6L1826.0 1124.0L1827.5 1120.4L1829.0 1122.7L1830.5 1119.9L1832.0 1120.4L1833.5 1117.4L1835.0 1118.2L1836.5 1115.3L1838.0 1116.3L1839.5 1112.4L1841.0 1114.0L1842.7 1109.3L1844.3 1102.5L1846.0 1099.4L1847.7 1092.9L1849.3 1089.3L1851.0 1084.0L1852.7 1073.7L1854.3 1070.9L1856.0 1062.7L1857.7 1057.0L1859.3 1046.6L1861.0 1043.0L1862.6 1039.5L1864.2 1033.5L1865.7 1031.7L1867.3 1026.8L1868.9 1023.0L1868.9 1241.6Z" fill="#c4ab98"/>
<path d="M4.6 1241.6L4.6 1040.0L6.0 1042.0L8.0 1050.1L10.0 1058.0L11.5 1067.8L13.0 1079.2L14.5 1088.7L16.0 1100.0L17.5 1108.6L19.0 1116.6L20.5 1125.0L22.0 1131.7L23.5 1141.8L25.0 1150.0L26.5 1152.3L28.0 1155.4L29.5 1156.9L31.0 1160.4L32.5 1161.9L34.0 1165.3L35.5 1167.4L37.0 1170.3L38.5 1170.7L40.0 1175.0L41.5 1175.7L43.0 1174.8L44.5 1176.8L46.0 1176.9L47.5 1177.8L49.0 1177.2L50.5 1178.6L52.0 1179.0L53.5 1179.9L55.0 1180.0L56.5 1180.0L58.0 1181.6L59.5 1180.0L61.0 1182.8L62.5 1180.9L64.0 1183.9L65.5 1182.9L67.0 1185.2L68.5 1183.4L70.0 1186.6L71.5 1186.8L73.0 1187.6L74.5 1187.9L76.0 1189.2L77.5 1188.9L79.0 1190.0L80.6 1185.5L82.2 1180.1L83.8 1175.8L85.5 1170.3L87.1 1166.1L88.7 1160.3L90.3 1156.6L91.9 1151.5L93.6 1147.6L95.3 1148.3L97.1 1144.0L98.8 1144.9L100.5 1142.8L102.0 1139.9L103.5 1141.8L105.1 1140.7L106.6 1140.6L108.1 1137.3L109.7 1139.3L111.2 1137.5L112.7 1137.6L114.4 1137.9L116.0 1137.4L117.7 1138.0L119.3 1136.8L121.0 1137.6L122.8 1138.2L124.6 1138.4L126.4 1139.3L128.2 1139.4L129.9 1138.5L131.7 1142.2L133.4 1142.1L135.2 1145.1L136.9 1146.3L138.6 1148.3L140.4 1150.7L142.1 1151.4L143.8 1154.9L145.5 1157.5L147.2 1159.2L149.0 1161.7L150.7 1163.6L152.4 1163.3L154.2 1163.3L155.9 1162.3L157.6 1162.8L159.4 1159.8L161.1 1161.8L162.8 1161.2L164.6 1157.8L166.3 1159.4L168.0 1158.3L169.8 1157.8L171.5 1156.7L173.2 1157.2L174.9 1157.9L176.7 1157.9L178.4 1159.2L180.1 1159.4L181.8 1160.1L183.5 1157.0L185.3 1152.0L187.0 1150.9L188.8 1145.4L190.5 1144.5L192.2 1143.5L193.9 1141.3L195.7 1140.6L197.4 1138.3L199.1 1137.6L200.8 1137.0L202.6 1135.1L204.3 1135.3L206.0 1133.3L207.8 1133.7L209.5 1132.4L211.2 1134.1L213.0 1137.3L214.7 1139.4L216.4 1139.1L218.2 1141.0L219.9 1142.2L221.6 1142.8L223.4 1144.6L225.1 1144.6L226.8 1146.3L228.5 1146.7L230.2 1146.6L232.0 1147.0L233.7 1147.0L235.4 1147.7L237.2 1150.0L238.9 1151.5L240.6 1152.9L242.4 1156.4L244.1 1158.3L245.9 1161.0L247.6 1163.0L249.3 1164.4L251.1 1167.2L252.8 1168.8L254.3 1167.9L255.8 1168.2L257.3 1166.2L258.9 1166.9L260.4 1166.4L261.9 1166.3L263.4 1163.2L264.9 1165.0L266.6 1163.5L268.3 1161.8L270.0 1160.4L271.8 1160.4L273.5 1158.9L275.2 1158.6L277.0 1157.2L278.7 1156.7L280.2 1156.2L281.7 1154.6L283.2 1154.9L284.8 1153.7L286.3 1153.8L287.8 1152.8L289.3 1152.4L290.8 1151.5L292.3 1149.7L293.9 1150.5L295.4 1149.5L296.9 1149.5L298.5 1148.3L300.0 1148.0L301.6 1147.3L303.2 1145.9L304.8 1145.9L306.4 1144.7L308.0 1144.0L310.0 1143.1L312.0 1142.0L313.5 1140.6L315.0 1140.4L316.5 1138.5L318.0 1138.0L319.5 1140.4L321.0 1141.8L322.5 1144.2L324.0 1146.0L325.6 1145.5L327.2 1147.2L328.8 1146.7L330.4 1147.7L332.0 1148.0L333.5 1147.6L335.0 1147.6L336.5 1146.8L338.0 1147.0L339.5 1144.7L341.0 1146.0L342.5 1147.1L344.0 1147.7L345.5 1149.4L347.0 1150.0L348.6 1148.3L350.2 1148.8L351.8 1147.2L353.4 1146.9L355.0 1146.0L356.5 1145.0L358.0 1145.0L359.5 1143.7L361.0 1143.5L362.5 1142.2L364.0 1142.0L365.7 1146.5L367.3 1150.2L369.0 1155.0L370.6 1157.0L372.2 1158.0L373.8 1159.8L375.4 1159.2L377.0 1163.0L379.0 1166.9L381.0 1170.0L382.6 1167.8L384.2 1170.2L385.8 1167.8L387.4 1170.4L389.0 1170.0L390.6 1170.2L392.2 1171.1L393.8 1169.6L395.4 1171.9L397.0 1172.0L399.0 1167.8L401.0 1165.0L402.8 1164.4L404.5 1163.1L406.2 1162.9L408.0 1162.0L409.7 1164.6L411.3 1167.6L413.0 1170.0L414.7 1171.4L416.3 1173.7L418.0 1175.0L419.6 1174.4L421.2 1174.2L422.8 1172.1L424.4 1173.0L426.0 1172.0L427.6 1168.2L429.2 1168.8L430.8 1165.8L432.4 1164.8L434.0 1163.0L435.6 1162.0L437.2 1163.5L438.8 1163.3L440.4 1164.1L442.0 1164.0L443.6 1163.1L445.2 1163.8L446.8 1161.2L448.4 1163.5L450.0 1163.0L451.6 1161.2L453.2 1160.3L454.8 1157.0L456.4 1157.6L458.0 1156.0L459.5 1154.9L461.0 1156.7L462.5 1156.6L464.0 1157.0L465.8 1158.7L467.5 1158.5L469.2 1161.6L471.0 1163.0L472.5 1163.3L474.0 1166.9L475.5 1166.8L477.0 1170.0L478.6 1171.2L480.2 1171.6L481.8 1172.7L483.4 1171.4L485.0 1174.0L487.0 1170.5L489.0 1167.0L490.8 1164.2L492.5 1162.1L494.2 1158.8L496.0 1157.0L497.8 1155.7L499.5 1153.4L501.2 1152.8L503.0 1151.0L504.5 1152.2L506.0 1153.5L507.5 1154.6L509.0 1156.0L510.6 1155.9L512.2 1155.5L513.8 1155.8L515.4 1153.5L517.0 1155.0L518.5 1153.3L520.0 1150.9L521.5 1149.9L523.0 1148.0L524.7 1145.3L526.3 1143.5L528.0 1140.1L529.7 1138.9L531.3 1135.9L533.0 1134.0L534.6 1133.5L536.1 1132.5L537.7 1132.3L539.3 1131.0L540.9 1131.5L542.4 1130.1L544.0 1130.0L545.6 1129.4L547.2 1128.6L548.8 1128.4L550.4 1126.8L552.0 1127.0L553.7 1125.9L555.3 1123.6L557.0 1122.9L558.7 1120.1L560.3 1119.7L562.0 1118.0L563.6 1118.0L565.2 1119.0L566.8 1118.1L568.4 1119.8L570.0 1120.0L571.5 1118.4L573.0 1119.2L574.5 1118.2L576.0 1118.0L577.6 1119.4L579.2 1119.3L580.8 1121.6L582.4 1122.3L584.0 1124.0L585.5 1122.2L587.0 1118.1L588.5 1118.4L590.0 1116.0L591.7 1112.9L593.3 1111.1L595.0 1108.0L596.5 1099.1L598.0 1093.0L600.0 1080.0L600.5 1061.0L602.5 1045.1L604.6 1029.0L606.1 1026.9L607.6 1026.0L609.3 1029.7L611.0 1031.8L612.7 1037.0L614.2 1049.3L615.7 1061.0L617.5 1080.0L619.4 1099.0L620.7 1111.0L622.0 1131.0L624.5 1157.0L627.0 1165.0L628.7 1166.4L630.3 1172.0L632.0 1175.0L633.6 1175.0L635.2 1177.3L636.8 1177.3L638.4 1179.0L640.0 1180.0L641.5 1179.2L643.0 1180.0L644.5 1179.9L646.0 1180.3L647.5 1180.0L649.0 1180.0L650.5 1179.9L652.0 1180.4L653.5 1179.8L655.0 1180.0L656.7 1180.0L658.3 1178.3L660.0 1180.1L661.7 1178.3L663.3 1180.3L665.0 1180.0L667.0 1170.0L668.7 1164.0L670.3 1161.8L672.0 1157.0L673.6 1153.0L675.2 1151.0L676.8 1147.4L678.4 1144.5L680.0 1141.0L681.5 1139.4L683.0 1139.0L684.8 1138.6L686.5 1137.4L688.2 1137.1L690.0 1136.0L692.0 1138.0L693.7 1136.2L695.3 1139.0L697.0 1139.1L698.7 1140.3L700.3 1138.9L702.0 1141.0L703.5 1141.6L705.0 1141.8L706.5 1142.6L708.0 1143.0L709.7 1141.1L711.3 1141.3L713.0 1140.0L714.7 1136.5L716.3 1134.2L718.0 1131.0L719.7 1131.9L721.3 1133.8L723.0 1135.0L724.6 1136.9L726.2 1139.8L727.8 1141.6L729.4 1145.0L731.0 1147.0L732.5 1149.5L734.0 1153.3L735.5 1155.8L737.0 1159.0L738.5 1160.3L740.0 1159.7L741.5 1162.3L743.0 1163.0L744.8 1163.3L746.5 1165.2L748.2 1165.1L750.0 1167.0L751.7 1171.7L753.3 1175.5L755.0 1180.0L756.5 1178.5L758.0 1177.0L760.0 1170.0L762.0 1167.3L764.0 1167.0L765.6 1166.2L767.2 1163.9L768.8 1163.6L770.4 1161.1L772.0 1161.0L773.6 1159.7L775.2 1157.9L776.8 1156.8L778.3 1154.5L779.9 1154.1L781.5 1152.3L783.1 1151.4L784.7 1147.4L786.2 1148.4L787.8 1145.7L789.4 1145.6L791.0 1144.0L792.6 1140.0L794.2 1139.8L795.8 1137.0L797.3 1135.1L798.9 1132.7L800.5 1130.7L802.1 1127.8L803.7 1126.1L805.2 1123.3L806.8 1121.6L808.4 1117.9L810.0 1117.0L811.5 1114.8L813.0 1110.2L814.5 1110.5L816.0 1107.2L817.5 1106.0L819.0 1101.9L820.5 1101.6L822.0 1099.0L823.5 1096.8L825.0 1096.2L826.5 1093.4L828.0 1093.4L829.5 1091.0L831.0 1090.0L832.6 1088.9L834.1 1084.9L835.7 1085.9L837.3 1084.1L838.9 1083.0L840.4 1080.3L842.0 1080.0L843.6 1080.9L845.1 1078.9L846.7 1082.1L848.3 1082.0L849.9 1082.9L851.4 1083.2L853.0 1084.0L854.5 1084.6L856.0 1083.9L857.5 1085.9L859.0 1083.9L860.5 1086.6L862.0 1087.0L863.6 1087.0L865.2 1090.7L866.8 1091.9L868.4 1094.5L870.0 1096.0L871.8 1100.4L873.5 1105.0L875.2 1107.9L877.0 1114.0L878.7 1117.8L880.3 1120.9L882.0 1125.3L883.7 1127.7L885.3 1132.3L887.0 1136.0L888.5 1135.6L890.0 1136.2L891.5 1135.4L893.0 1136.0L894.5 1134.1L896.0 1131.2L897.5 1130.4L899.0 1127.6L900.5 1126.2L902.0 1124.0L903.5 1122.6L905.0 1121.6L906.5 1119.3L908.0 1119.0L909.5 1119.8L911.0 1118.5L912.5 1121.7L914.0 1122.0L915.5 1123.9L917.0 1126.4L918.5 1127.6L920.0 1130.0L921.7 1131.7L923.3 1131.4L925.0 1134.0L926.6 1132.5L928.2 1129.8L929.8 1129.5L931.4 1126.1L933.0 1126.0L934.6 1120.9L936.2 1114.3L937.8 1110.8L939.4 1104.2L941.0 1100.0L942.6 1098.2L944.1 1095.9L945.7 1094.2L947.3 1091.6L948.9 1090.3L950.4 1087.0L952.0 1086.0L953.7 1078.6L955.3 1070.5L957.0 1063.0L958.7 1053.6L960.3 1042.8L962.0 1034.0L963.5 1025.8L965.0 1015.5L966.5 1009.5L968.0 1001.0L969.5 996.4L971.0 992.0L972.7 994.8L974.3 996.5L976.0 999.0L977.7 1006.5L979.3 1012.5L981.0 1021.0L982.5 1029.3L984.0 1037.0L985.5 1045.8L987.0 1056.0L988.7 1065.0L990.3 1072.8L992.0 1082.0L994.0 1095.1L996.0 1108.0L998.0 1118.8L1000.0 1130.0L1001.8 1131.8L1003.5 1132.4L1005.2 1135.6L1007.0 1137.0L1008.5 1135.0L1010.0 1134.8L1011.5 1132.8L1013.0 1132.0L1014.5 1133.6L1016.0 1134.6L1017.5 1136.9L1019.0 1138.0L1020.5 1139.7L1022.0 1141.0L1023.5 1141.9L1025.0 1143.7L1026.5 1144.1L1028.0 1145.8L1029.5 1146.4L1031.0 1148.0L1032.5 1147.1L1034.0 1144.3L1035.5 1144.7L1037.0 1141.6L1038.5 1142.2L1040.0 1141.0L1041.6 1139.8L1043.2 1139.3L1044.9 1138.3L1046.5 1137.9L1048.1 1135.5L1049.8 1135.8L1051.4 1134.7L1053.0 1134.0L1054.6 1133.0L1056.2 1130.4L1057.8 1130.8L1059.4 1128.0L1061.0 1128.0L1062.5 1125.8L1064.0 1122.9L1065.5 1120.7L1067.0 1117.8L1068.5 1115.7L1070.0 1113.0L1071.5 1108.6L1073.0 1105.8L1074.5 1101.7L1076.0 1098.7L1077.5 1094.6L1079.0 1091.0L1080.7 1086.6L1082.4 1079.4L1084.1 1077.0L1085.8 1071.4L1087.5 1067.0L1089.0 1064.9L1090.5 1061.5L1092.0 1060.0L1093.7 1059.1L1095.4 1055.3L1097.1 1056.7L1098.8 1054.9L1100.5 1054.0L1102.6 1051.4L1104.7 1048.0L1106.3 1044.4L1107.8 1042.3L1109.4 1037.8L1111.0 1036.0L1113.5 1027.0L1116.0 1014.0L1118.8 999.0L1121.0 960.0L1122.4 921.0L1124.1 780.0L1125.0 681.0L1126.0 500.0L1126.6 395.0L1127.5 328.0L1129.5 220.0L1131.3 133.0L1132.5 100.0L1133.7 76.0L1135.0 67.0L1136.3 76.0L1137.5 100.0L1139.4 133.0L1140.3 180.0L1141.4 328.0L1142.5 395.0L1143.1 500.0L1144.0 681.0L1145.3 780.0L1147.0 992.0L1148.8 1027.0L1150.6 1062.0L1152.3 1078.7L1154.1 1098.0L1156.0 1128.0L1157.5 1132.5L1159.0 1135.9L1160.5 1141.0L1162.0 1145.0L1163.7 1146.3L1165.3 1148.8L1167.0 1149.8L1168.7 1152.4L1170.3 1153.5L1172.0 1156.0L1173.5 1157.2L1175.0 1157.2L1176.5 1158.9L1178.0 1157.2L1179.5 1160.8L1181.0 1161.1L1182.5 1162.5L1184.0 1163.0L1185.6 1161.7L1187.1 1162.2L1188.7 1161.3L1190.3 1161.4L1191.9 1160.8L1193.4 1160.7L1195.0 1160.0L1196.7 1154.4L1198.3 1153.5L1200.0 1150.0L1201.7 1140.2L1203.3 1134.3L1205.0 1126.0L1206.8 1121.9L1208.5 1118.4L1210.2 1113.2L1212.0 1110.0L1213.6 1104.4L1215.2 1096.9L1216.8 1092.3L1218.4 1085.6L1220.0 1080.0L1221.8 1074.6L1223.5 1066.2L1225.2 1063.1L1227.0 1057.0L1228.7 1053.1L1230.3 1050.7L1232.0 1047.0L1233.6 1041.0L1235.2 1036.2L1236.8 1030.8L1238.4 1025.4L1240.0 1020.0L1241.6 1015.8L1243.2 1012.1L1244.8 1007.4L1246.4 1004.3L1248.0 1000.0L1249.8 996.0L1251.6 993.5L1253.4 990.0L1255.1 994.0L1256.8 999.9L1258.6 1004.1L1260.3 1009.9L1262.0 1014.5L1263.5 1019.5L1265.0 1025.4L1266.5 1028.7L1268.0 1036.5L1269.5 1041.2L1271.0 1047.0L1272.5 1048.7L1274.0 1049.3L1275.5 1051.8L1277.0 1052.8L1278.5 1054.5L1280.0 1056.0L1281.6 1059.2L1283.2 1063.2L1284.8 1066.1L1286.4 1069.8L1288.0 1073.0L1289.7 1073.6L1291.3 1074.8L1293.0 1075.3L1294.7 1076.5L1296.3 1077.0L1298.0 1078.0L1299.5 1075.5L1301.0 1072.9L1302.5 1070.6L1304.0 1067.4L1305.5 1065.5L1307.0 1063.0L1308.5 1059.5L1310.0 1056.2L1311.5 1052.0L1313.0 1049.3L1314.5 1045.5L1316.0 1042.0L1317.5 1039.2L1319.0 1035.5L1320.5 1033.0L1322.0 1027.8L1323.5 1027.1L1325.0 1023.9L1326.5 1021.2L1328.0 1018.0L1329.6 1013.0L1331.1 1008.5L1332.7 1003.0L1334.2 998.6L1335.8 993.6L1337.4 989.1L1338.9 983.6L1340.5 979.0L1342.0 971.9L1343.5 963.4L1345.0 956.9L1346.5 949.0L1348.0 944.7L1349.5 941.1L1351.0 936.7L1352.5 933.4L1354.0 928.1L1355.5 925.0L1357.0 921.7L1358.5 917.9L1360.0 914.8L1361.5 908.8L1363.0 907.8L1364.5 904.0L1366.0 902.0L1367.5 900.0L1369.0 897.9L1370.5 896.1L1372.0 894.0L1373.5 892.0L1375.0 889.9L1376.5 886.7L1378.0 885.9L1379.5 883.1L1381.0 881.6L1382.5 879.0L1384.0 879.4L1385.5 881.4L1387.0 879.8L1388.5 883.0L1390.0 892.4L1391.5 901.0L1393.0 910.0L1394.8 913.9L1396.5 916.7L1398.2 921.7L1400.0 925.0L1401.8 932.4L1403.5 940.1L1405.2 945.8L1407.0 955.0L1408.5 951.6L1410.0 947.6L1411.5 944.7L1413.0 940.0L1414.5 937.9L1416.0 934.0L1417.5 928.3L1419.0 923.3L1420.5 916.3L1422.0 912.4L1423.5 905.8L1425.0 901.0L1426.7 898.8L1428.4 895.4L1430.2 893.4L1431.9 890.4L1433.6 888.0L1435.2 893.9L1436.8 898.4L1438.4 904.6L1440.0 910.0L1441.5 917.3L1443.0 925.3L1444.5 931.7L1446.0 940.0L1447.5 949.3L1449.0 957.6L1450.5 967.2L1452.0 976.0L1453.5 990.8L1455.0 1006.0L1456.5 1021.8L1458.0 1037.0L1459.5 1046.7L1461.0 1056.7L1462.5 1065.0L1464.0 1076.0L1465.5 1086.1L1467.0 1095.4L1468.5 1105.4L1470.0 1115.0L1471.7 1121.7L1473.3 1132.0L1475.0 1140.0L1476.7 1143.1L1478.3 1150.4L1480.0 1155.0L1481.5 1154.6L1483.1 1155.7L1484.6 1154.3L1486.2 1155.8L1487.7 1155.4L1489.2 1156.0L1490.8 1155.6L1492.3 1156.7L1493.8 1156.3L1495.4 1156.8L1496.9 1156.6L1498.5 1156.9L1500.0 1157.0L1501.5 1156.1L1503.1 1157.1L1504.6 1157.0L1506.2 1157.1L1507.7 1156.1L1509.2 1157.3L1510.8 1157.0L1512.3 1157.1L1513.8 1154.8L1515.4 1157.1L1516.9 1156.3L1518.5 1157.2L1520.0 1155.6L1521.5 1157.3L1523.1 1155.6L1524.6 1157.2L1526.2 1156.8L1527.7 1157.1L1529.2 1156.9L1530.8 1157.4L1532.3 1156.9L1533.8 1157.0L1535.4 1154.8L1536.9 1157.1L1538.5 1155.0L1540.0 1157.0L1541.7 1150.9L1543.3 1144.1L1545.0 1138.6L1546.7 1130.7L1548.3 1126.4L1550.0 1120.0L1551.6 1103.7L1553.2 1089.7L1554.8 1074.0L1556.3 1071.5L1557.8 1072.9L1559.4 1071.3L1560.9 1071.7L1562.4 1070.8L1564.0 1070.6L1565.5 1068.8L1567.0 1069.0L1568.5 1062.6L1570.0 1055.2L1571.5 1048.8L1573.0 1041.2L1574.5 1035.3L1576.0 1028.1L1577.5 1021.6L1579.0 1014.0L1580.5 1007.8L1582.0 1001.0L1583.7 990.3L1585.3 981.3L1587.0 971.0L1588.5 969.3L1590.0 969.0L1591.5 966.7L1593.0 966.4L1594.5 964.8L1596.0 964.0L1597.5 960.9L1599.0 956.6L1600.5 953.7L1602.0 950.0L1604.0 940.9L1606.0 932.0L1607.7 928.1L1609.3 923.8L1611.0 920.4L1612.7 914.8L1614.3 912.4L1616.0 908.0L1617.7 904.9L1619.3 906.6L1621.0 903.2L1622.7 904.9L1624.3 903.3L1626.0 903.0L1627.6 905.1L1629.2 904.2L1630.8 908.4L1632.3 909.1L1633.9 911.7L1635.5 913.0L1637.1 914.1L1638.7 916.6L1640.2 915.5L1641.8 919.5L1643.4 918.7L1645.0 922.5L1646.7 925.8L1648.3 928.9L1650.0 932.6L1651.7 935.2L1653.3 939.0L1655.0 942.0L1656.7 944.4L1658.3 948.7L1660.0 950.8L1661.7 955.5L1663.3 958.2L1665.0 962.0L1666.8 969.4L1668.5 975.3L1670.2 984.1L1672.0 991.0L1673.8 997.9L1675.5 1005.5L1677.2 1012.4L1679.0 1020.0L1680.8 1030.2L1682.5 1039.9L1684.2 1050.1L1686.0 1060.0L1687.5 1066.9L1689.0 1076.6L1690.5 1082.2L1692.0 1093.1L1693.5 1099.0L1695.0 1109.0L1696.7 1114.2L1698.3 1118.8L1700.0 1124.1L1701.7 1128.4L1703.3 1134.2L1705.0 1139.0L1706.7 1141.6L1708.3 1145.8L1710.0 1147.3L1711.7 1152.5L1713.3 1155.1L1715.0 1159.0L1716.7 1161.1L1718.3 1160.9L1720.0 1164.0L1721.7 1164.1L1723.3 1163.7L1725.0 1164.4L1726.7 1164.0L1728.3 1164.1L1730.0 1164.0L1731.6 1161.6L1733.2 1160.7L1734.9 1158.6L1736.5 1157.0L1738.1 1155.0L1739.8 1153.8L1741.4 1151.2L1743.0 1150.0L1744.5 1144.0L1746.0 1135.8L1747.5 1131.2L1749.0 1124.4L1750.5 1118.0L1752.3 1110.4L1754.0 1102.7L1755.8 1095.0L1757.9 1086.2L1760.0 1077.0L1762.0 1061.0L1764.0 1050.1L1766.0 1040.0L1767.6 1037.7L1769.1 1034.6L1770.7 1033.0L1772.4 1024.7L1774.1 1016.0L1775.8 1008.1L1777.4 998.2L1779.1 991.5L1780.8 983.0L1782.3 978.7L1783.8 975.0L1785.3 970.5L1786.8 967.3L1788.3 962.0L1789.9 959.4L1791.4 953.5L1792.9 951.1L1794.4 946.9L1795.9 943.0L1797.6 937.4L1799.3 929.8L1801.0 925.5L1802.6 917.7L1804.3 913.7L1806.0 907.5L1807.7 897.1L1809.3 887.4L1811.0 877.2L1812.7 867.5L1814.3 855.0L1816.0 847.0L1817.7 833.9L1819.3 819.4L1821.0 806.8L1822.7 790.8L1824.3 779.9L1826.0 766.0L1827.5 753.2L1829.1 742.2L1830.6 729.3L1832.2 718.1L1833.7 706.0L1835.5 689.4L1837.3 673.6L1839.2 654.6L1841.0 640.5L1842.7 635.3L1844.4 629.1L1846.2 624.3L1847.9 618.1L1849.6 613.5L1851.3 607.7L1852.8 610.6L1854.3 615.1L1855.8 617.9L1857.3 621.7L1858.8 625.0L1860.5 629.5L1862.2 635.5L1863.8 638.8L1865.5 646.0L1867.2 648.6L1868.9 656.0L1868.9 1241.6Z" fill="rgb(0,149,152)" fill-opacity="0.40"/>
<path d="M4.6 1241.6L4.6 786.0L7.0 795.0L9.7 802.0L11.5 835.0L12.9 867.0L15.3 915.0L17.7 963.5L20.0 1010.0L22.6 1060.0L26.0 1095.0L30.6 1125.0L34.0 1145.0L37.0 1157.0L46.0 1176.0L55.0 1180.0L65.0 1186.0L74.6 1196.4L81.5 1203.4L86.7 1213.7L95.4 1225.8L109.2 1225.8L117.8 1222.4L128.2 1218.1L136.9 1221.5L147.2 1225.8L161.1 1221.5L173.2 1218.1L183.6 1224.1L195.7 1226.7L213.0 1228.4L230.3 1230.2L247.6 1225.8L258.0 1217.2L264.9 1203.4L273.5 1192.1L278.7 1190.4L289.1 1194.7L300.0 1193.0L312.0 1192.0L320.0 1196.0L330.0 1205.0L341.0 1216.0L353.0 1222.0L365.0 1222.0L381.0 1224.0L393.0 1222.0L401.0 1226.0L413.0 1233.0L422.0 1226.0L432.0 1209.0L442.0 1193.0L450.0 1183.0L456.0 1187.0L462.0 1201.0L468.0 1218.0L475.0 1224.0L491.0 1223.0L503.0 1224.0L517.0 1222.0L525.0 1213.0L531.0 1183.0L538.0 1159.0L545.0 1150.0L552.0 1163.0L558.0 1183.0L564.0 1189.0L574.0 1195.0L584.0 1203.0L590.0 1205.0L598.0 1170.0L604.0 1131.0L612.0 1120.0L617.0 1131.0L622.0 1159.0L626.0 1173.0L630.0 1162.0L633.5 1129.0L635.5 1117.0L638.5 1025.0L641.6 932.0L644.7 877.0L647.8 862.0L650.9 880.0L654.0 939.0L657.0 1025.0L660.0 1117.0L662.0 1142.0L665.0 1177.0L667.0 1185.0L672.0 1201.0L676.0 1206.0L680.0 1199.0L685.0 1182.0L689.0 1162.0L692.0 1157.0L696.0 1136.0L701.0 1143.0L705.0 1162.0L709.0 1182.0L714.0 1204.0L719.0 1223.0L725.0 1232.0L733.0 1235.0L741.0 1237.0L750.0 1233.0L760.0 1228.0L770.0 1223.0L788.0 1216.0L797.0 1218.0L813.0 1224.0L828.0 1221.0L847.0 1210.0L862.0 1188.0L871.0 1184.0L880.0 1191.0L891.0 1196.0L901.0 1188.0L908.0 1161.0L916.0 1145.0L920.0 1148.0L929.0 1170.0L930.5 1178.0L939.0 1176.0L948.0 1167.0L957.0 1164.0L965.0 1169.0L972.0 1178.0L978.5 1180.0L985.0 1174.0L991.6 1152.0L998.0 1137.0L1002.5 1132.0L1009.0 1143.0L1015.5 1169.0L1022.0 1200.0L1031.0 1224.0L1042.0 1227.0L1053.0 1230.0L1061.0 1232.0L1072.0 1227.0L1083.0 1219.0L1092.0 1211.0L1100.5 1187.0L1107.0 1156.0L1113.6 1139.0L1118.0 1120.0L1121.0 1060.0L1122.0 960.0L1124.0 850.0L1125.9 780.0L1127.5 681.0L1129.6 500.0L1131.7 395.0L1132.6 382.0L1133.5 375.0L1134.4 372.0L1135.4 375.0L1136.4 382.0L1137.7 395.0L1141.6 500.0L1143.7 681.0L1144.6 780.0L1147.0 1027.0L1150.0 1090.0L1153.0 1115.0L1156.0 1130.0L1159.0 1120.0L1161.0 1110.0L1166.0 1104.0L1173.0 1095.0L1178.0 1082.0L1184.0 1052.0L1188.0 1025.0L1191.0 1020.0L1194.5 1028.0L1198.0 1052.0L1201.0 1082.0L1205.0 1123.0L1210.0 1139.0L1213.0 1147.0L1216.0 1139.0L1223.0 1102.0L1229.0 1052.0L1236.0 1014.0L1242.5 984.0L1247.0 975.0L1250.0 982.0L1253.0 999.0L1258.0 1047.0L1262.0 1091.0L1266.0 1134.0L1270.0 1187.0L1276.6 1220.2L1282.4 1227.7L1289.9 1223.5L1296.5 1212.0L1303.1 1187.2L1309.7 1145.8L1314.7 1104.4L1319.6 1063.1L1323.8 1048.2L1326.2 1044.9L1329.6 1049.9L1333.7 1071.4L1337.8 1104.4L1342.8 1142.5L1349.4 1173.9L1356.0 1190.5L1364.3 1197.1L1372.6 1203.7L1385.8 1211.1L1395.7 1208.7L1407.3 1203.7L1415.6 1195.4L1422.2 1178.9L1428.8 1155.7L1435.4 1126.0L1441.9 1096.2L1448.7 1063.1L1452.5 1043.0L1453.6 1030.0L1456.0 980.0L1459.5 920.0L1464.0 844.0L1469.0 722.0L1474.0 639.0L1477.6 619.5L1481.5 649.0L1486.4 747.0L1492.3 805.0L1497.7 747.0L1502.5 712.0L1505.0 707.5L1508.4 727.0L1513.3 795.5L1518.2 874.0L1528.0 942.0L1537.7 1015.0L1545.0 1054.5L1552.4 1069.0L1554.3 1074.0L1557.5 1105.0L1562.9 1145.7L1568.6 1188.6L1574.3 1208.6L1581.4 1214.3L1588.6 1211.4L1597.1 1191.4L1607.1 1178.6L1615.7 1182.9L1630.0 1185.7L1644.3 1192.9L1652.9 1194.3L1660.0 1191.4L1665.7 1174.3L1670.0 1145.7L1674.3 1102.9L1678.6 1067.1L1682.0 1040.0L1686.0 1030.0L1692.0 1050.0L1697.1 1117.1L1701.4 1167.1L1707.1 1210.0L1715.7 1228.6L1722.9 1225.7L1730.0 1222.9L1745.5 1200.0L1752.6 1180.0L1758.0 1140.0L1763.0 1105.0L1768.0 1087.0L1774.0 1087.0L1778.0 1093.0L1784.0 1095.0L1789.5 1084.0L1795.0 1072.0L1799.0 1061.0L1803.0 1048.0L1807.0 1040.0L1810.0 1010.0L1816.0 963.0L1823.6 882.0L1831.0 817.0L1835.0 812.0L1841.0 842.0L1849.0 882.0L1856.0 897.0L1868.9 908.0L1868.9 1241.6Z" fill="rgb(244,10,10)" fill-opacity="0.45"/>
<circle cx="546.8" cy="543.3" r="8.9" fill="#ed1c24" stroke="#2a0505" stroke-width="1.8"/>
<circle cx="624.6" cy="550.2" r="8.9" fill="#ed1c24" stroke="#2a0505" stroke-width="1.8"/>
<circle cx="703.2" cy="475.2" r="8.9" fill="#ed1c24" stroke="#2a0505" stroke-width="1.8"/>
<circle cx="918.5" cy="594.2" r="8.9" fill="#ed1c24" stroke="#2a0505" stroke-width="1.8"/>
<circle cx="1008.3" cy="571.4" r="8.9" fill="#ed1c24" stroke="#2a0505" stroke-width="1.8"/>
<circle cx="1180.3" cy="614.3" r="8.9" fill="#ed1c24" stroke="#2a0505" stroke-width="1.8"/>
<circle cx="1239.0" cy="479.0" r="8.9" fill="#ed1c24" stroke="#2a0505" stroke-width="1.8"/>
<circle cx="1314.2" cy="593.1" r="8.9" fill="#ed1c24" stroke="#2a0505" stroke-width="1.8"/>
<circle cx="1475.4" cy="554.5" r="8.9" fill="#ed1c24" stroke="#2a0505" stroke-width="1.8"/>
<circle cx="1504.4" cy="511.3" r="8.9" fill="#ed1c24" stroke="#2a0505" stroke-width="1.8"/>
<circle cx="1669.5" cy="569.1" r="8.9" fill="#ed1c24" stroke="#2a0505" stroke-width="1.8"/>
<circle cx="1748.4" cy="589.1" r="8.9" fill="#ed1c24" stroke="#2a0505" stroke-width="1.8"/>
<circle cx="1786.2" cy="433.3" r="8.9" fill="#ed1c24" stroke="#2a0505" stroke-width="1.8"/>
<circle cx="1844.8" cy="445.3" r="8.9" fill="#ed1c24" stroke="#2a0505" stroke-width="1.8"/>
<circle cx="615.1" cy="550.2" r="8.9" fill="#0fd5db" stroke="#032a2c" stroke-width="1.8"/>
<circle cx="866.2" cy="509.4" r="8.9" fill="#0fd5db" stroke="#032a2c" stroke-width="1.8"/>
<circle cx="928.3" cy="564.3" r="8.9" fill="#0fd5db" stroke="#032a2c" stroke-width="1.8"/>
<circle cx="975.4" cy="547.2" r="8.9" fill="#0fd5db" stroke="#032a2c" stroke-width="1.8"/>
<circle cx="1259.4" cy="479.0" r="8.9" fill="#0fd5db" stroke="#032a2c" stroke-width="1.8"/>
<circle cx="1390.5" cy="518.0" r="8.9" fill="#0fd5db" stroke="#032a2c" stroke-width="1.8"/>
<circle cx="1434.6" cy="515.0" r="8.9" fill="#0fd5db" stroke="#032a2c" stroke-width="1.8"/>
<circle cx="1640.5" cy="517.2" r="8.9" fill="#0fd5db" stroke="#032a2c" stroke-width="1.8"/>
<circle cx="1796.3" cy="433.3" r="8.9" fill="#0fd5db" stroke="#032a2c" stroke-width="1.8"/>
<circle cx="1858.6" cy="445.3" r="8.9" fill="#0fd5db" stroke="#032a2c" stroke-width="1.8"/>
<rect x="0.7" y="10.7" width="3.9" height="1234.3" fill="#000"/>
<rect x="0.7" y="10.7" width="24.5" height="24.5" fill="#000"/>
<rect x="0.7" y="10.7" width="37.6" height="3.9" fill="#000"/>
<rect x="0.7" y="1241.4" width="1872.7" height="3.7" fill="#000"/>
<rect x="0.7" y="1217.9" width="28" height="27.2" fill="#000"/>
<rect x="1846.5" y="1218.2" width="26.9" height="26.9" fill="#000"/>
<rect x="1869.3" y="1203.4" width="4.1" height="41.7" fill="#000"/>
<rect x="364.3" y="1244" width="4" height="19.2" fill="#000"/>
<rect x="1023.5" y="1244" width="4" height="19.2" fill="#000"/>
<rect x="1716.4" y="1244" width="4" height="19.2" fill="#000"/>
<text x="366.3" y="1291" font-family="'Liberation Sans', Arial, sans-serif" font-size="29" text-anchor="middle">500</text>
<text x="1027.0" y="1291" font-family="'Liberation Sans', Arial, sans-serif" font-size="29" text-anchor="middle">1000</text>
<text x="1720.0" y="1291" font-family="'Liberation Sans', Arial, sans-serif" font-size="29" text-anchor="middle">1500</text>
<text x="53.2" y="21.7" font-family="'Liberation Sans', Arial, sans-serif" font-size="29.4">Intensity (arbitrary units)</text>
<text x="1644" y="1323" font-family="'Liberation Sans', Arial, sans-serif" font-size="29.3">Raman shift (cm<tspan font-size="16.5" dy="-10.2">-1</tspan><tspan dy="10.2">)</tspan></text>
<rect x="96.3" y="234.9" width="89.4" height="44.8" rx="4.5" fill="#9c8b7c" stroke="#2e241c" stroke-width="1.5"/>
<text x="207" y="264.4" font-family="'Liberation Sans', Arial, sans-serif" font-size="29.25"><tspan font-style="italic">Heyuannia huangi</tspan> fossil eggshell fragment</text>
<rect x="96.3" y="740.9" width="89.4" height="44.8" rx="4.5" fill="#c4ab98" stroke="#35281f" stroke-width="1.5"/>
<text x="207" y="770.8" font-family="'Liberation Sans', Arial, sans-serif" font-size="29.25"><tspan font-style="italic">Allosaurus fragilis</tspan> fossil vertebral bone fragment</text>
<rect x="96.3" y="811.1" width="89.4" height="44.8" rx="4.5" fill="#98d6d6" stroke="#143030" stroke-width="1.5"/>
<text x="207" y="842.0" font-family="'Liberation Sans', Arial, sans-serif" font-size="29.25"><tspan font-style="italic">Dromaius novaehollandiae</tspan> eggshell (Bv)</text>
<rect x="96.3" y="879.2" width="89.4" height="44.8" rx="4.5" fill="#fc9595" stroke="#3e1818" stroke-width="1.5"/>
<text x="207" y="910.0" font-family="'Liberation Sans', Arial, sans-serif" font-size="29.25"><tspan font-style="italic">Gallus domesticus</tspan> eggshell (PP)</text>
</svg>
</body></html>
